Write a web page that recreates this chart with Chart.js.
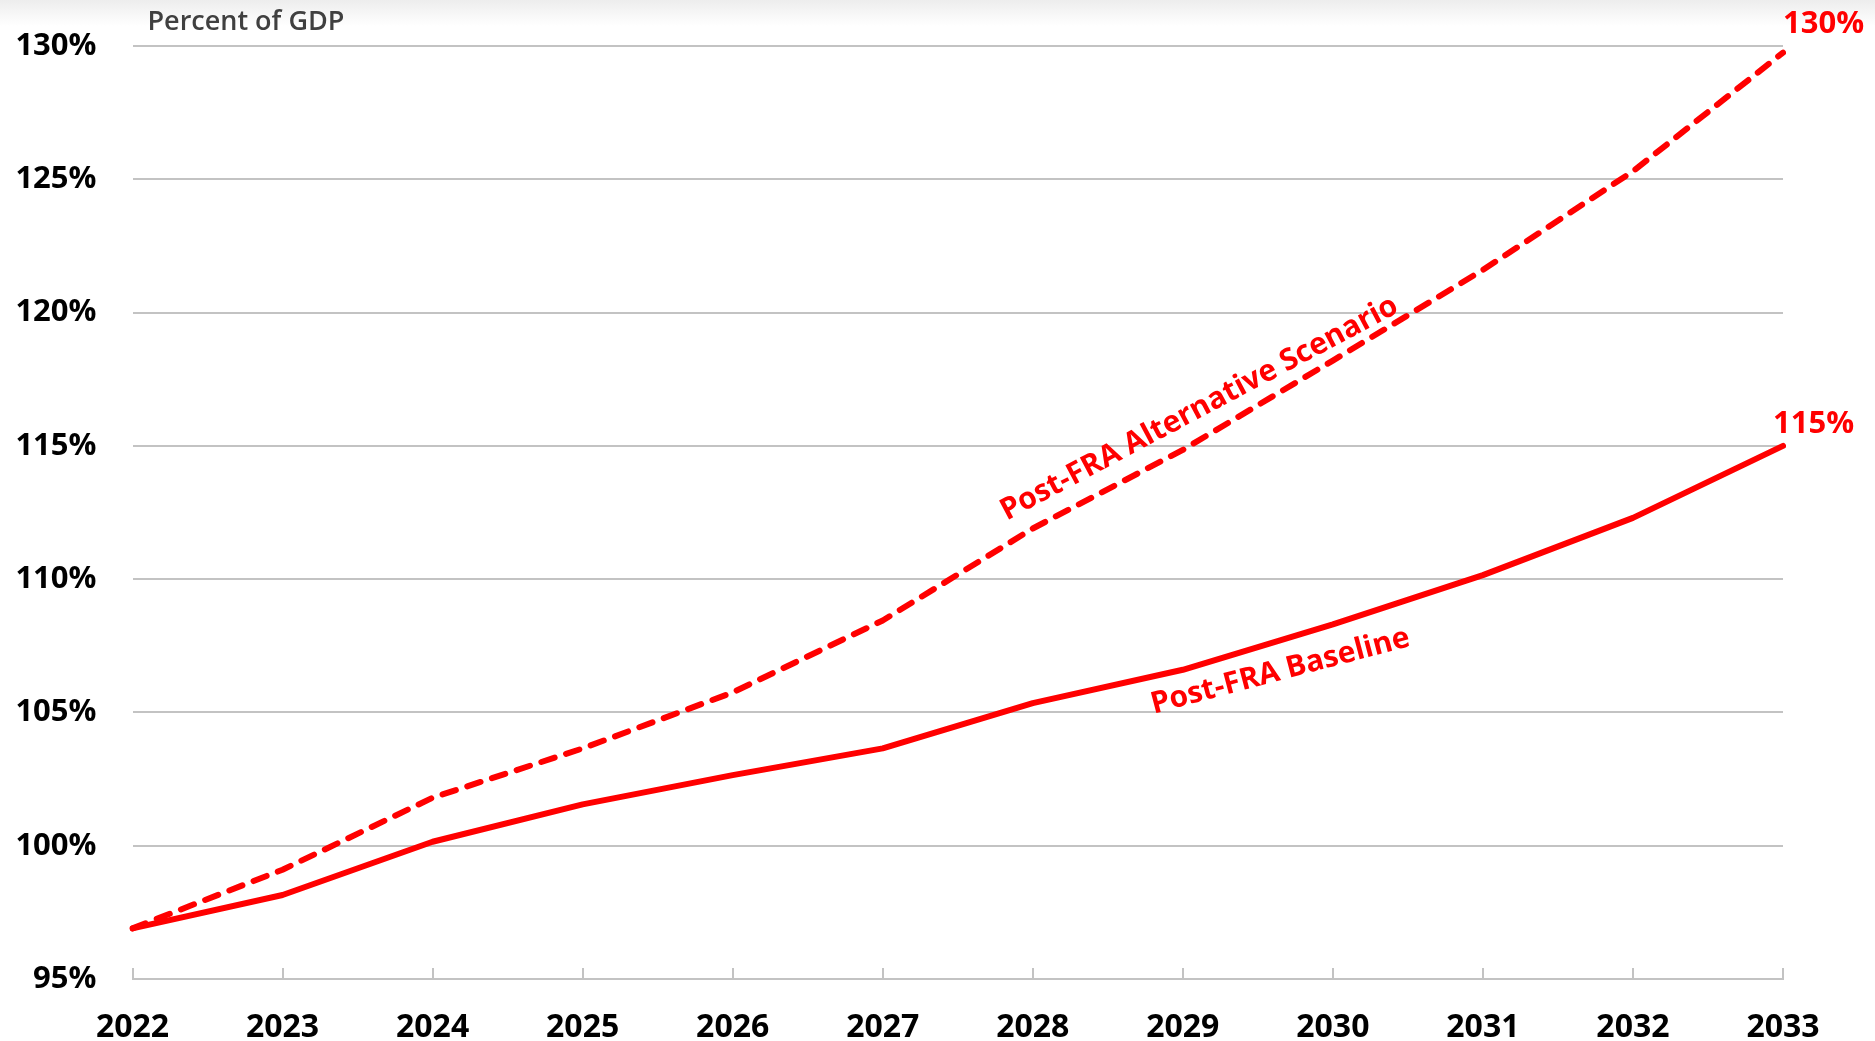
<!DOCTYPE html>
<html>
<head>
<meta charset="utf-8">
<script src="https://cdn.jsdelivr.net/npm/chart.js@4/dist/chart.umd.min.js"></script>
<style>
  html, body { margin: 0; padding: 0; }
  body { width: 1875px; height: 1041px; background: linear-gradient(#ededed 0px, #ffffff 26px); overflow: hidden; }
  #c { display: block; }
</style>
</head>
<body>
<canvas id="c" width="1875" height="1041"></canvas>
<script>
const years = ['2022','2023','2024','2025','2026','2027','2028','2029','2030','2031','2032','2033'];
const baseline = [96.9, 98.15, 100.15, 101.55, 102.65, 103.65, 105.35, 106.6, 108.3, 110.15, 112.3, 115.0];
const alternative = [96.9, 99.1, 101.8, 103.65, 105.75, 108.45, 111.9, 114.85, 118.2, 121.6, 125.3, 129.75];
const yTicks = [95, 100, 105, 110, 115, 120, 125, 130];
const axisTitle = 'Percent of GDP';
const baselineName = 'Post-FRA Baseline';
const altName = 'Post-FRA Alternative Scenario';
const baselineEndLabel = '115%';
const altEndLabel = '130%';

const RED = '#ff0000';
const GRID = '#c3c3c3';
const FONT = '"Open Sans", "DejaVu Sans", sans-serif';

const overlay = {
  id: 'overlay',
  afterDraw(chart) {
    const ctx = chart.ctx;
    const xs = chart.scales.x, ys = chart.scales.y;
    const area = chart.chartArea;
    ctx.save();
    ctx.strokeStyle = GRID;
    ctx.lineWidth = 2;
    for (let i = 0; i < years.length; i++) {
      const x = Math.round(xs.getPixelForValue(i));
      ctx.beginPath();
      ctx.moveTo(x, area.bottom - 11);
      ctx.lineTo(x, area.bottom);
      ctx.stroke();
    }
    ctx.fillStyle = '#404040';
    ctx.font = '600 27px ' + FONT;
    ctx.textAlign = 'left';
    ctx.textBaseline = 'alphabetic';
    ctx.fillText(axisTitle, area.left + 15, area.top - 16);
    ctx.fillStyle = RED;
    ctx.font = 'bold 31px ' + FONT;
    const last = years.length - 1;
    ctx.fillText(altEndLabel, xs.getPixelForValue(last), ys.getPixelForValue(alternative[last]) - 20);
    ctx.fillText(baselineEndLabel, xs.getPixelForValue(last) - 10, ys.getPixelForValue(baseline[last]) - 13);
    ctx.font = 'bold 30px ' + FONT;
    ctx.textAlign = 'center';
    ctx.textBaseline = 'middle';
    ctx.save();
    ctx.translate(xs.getPixelForValue(7.11), ys.getPixelForValue(116.4));
    ctx.rotate(-28 * Math.PI / 180);
    ctx.fillText(altName, 0, 0);
    ctx.restore();
    ctx.save();
    ctx.translate(xs.getPixelForValue(7.65), ys.getPixelForValue(106.54));
    ctx.rotate(-14.8 * Math.PI / 180);
    ctx.fillText(baselineName, 0, 0);
    ctx.restore();
    ctx.restore();
  }
};

new Chart(document.getElementById('c'), {
  type: 'line',
  data: {
    labels: years,
    datasets: [
      {
        label: altName,
        data: alternative,
        borderColor: RED,
        borderWidth: 6,
        borderDash: [14, 12],
        borderCapStyle: 'round',
        borderJoinStyle: 'round',
        pointRadius: 0,
        tension: 0,
        fill: false
      },
      {
        label: baselineName,
        data: baseline,
        borderColor: RED,
        borderWidth: 6,
        borderCapStyle: 'round',
        borderJoinStyle: 'round',
        pointRadius: 0,
        tension: 0,
        fill: false
      }
    ]
  },
  options: {
    responsive: false,
    animation: false,
    devicePixelRatio: 1,
    layout: { padding: { top: 46, right: 92, left: 0, bottom: 0 } },
    plugins: { legend: { display: false }, tooltip: { enabled: false } },
    scales: {
      x: {
        type: 'category',
        offset: false,
        grid: { display: false, drawTicks: false },
        border: { display: true, color: GRID, width: 2 },
        ticks: {
          color: '#000',
          font: { family: FONT, weight: 'bold', size: 32 },
          padding: 30,
          maxRotation: 0,
          autoSkip: false
        },
        afterFit(scale) { scale.height = 62; }
      },
      y: {
        min: 95,
        max: 130,
        afterBuildTicks(scale) { scale.ticks = yTicks.map(v => ({ value: v })); },
        grid: { color: GRID, lineWidth: 2, drawTicks: true, tickLength: 36, tickColor: 'rgba(0,0,0,0)' },
        border: { display: false },
        ticks: {
          color: '#000',
          font: { family: FONT, weight: 'bold', size: 31 },
          padding: 0,
          callback: v => v + '%'
        },
        afterFit(scale) { scale.width = 132.5; }
      }
    }
  },
  plugins: [overlay]
});
</script>
</body>
</html>
